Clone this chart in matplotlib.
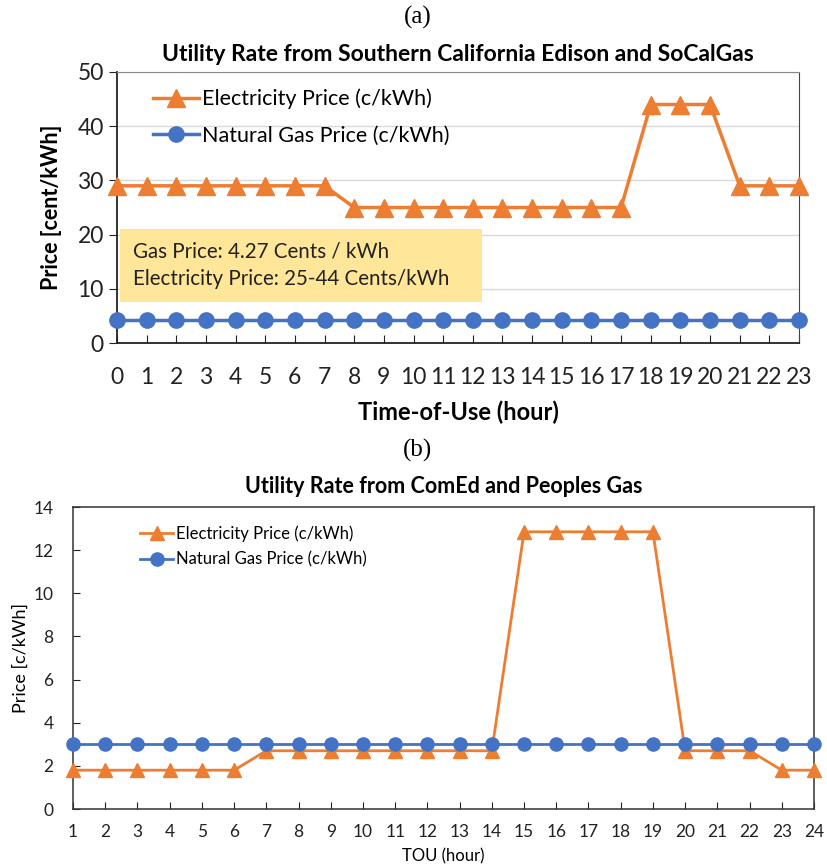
import matplotlib.pyplot as plt
from matplotlib.patches import Rectangle

# (a) Southern California Edison / SoCalGas
hours_a = list(range(0, 24))
elec_a = [29, 29, 29, 29, 29, 29, 29, 29, 25, 25, 25, 25, 25, 25, 25, 25, 25, 25,
          44, 44, 44, 29, 29, 29]
gas_a = [4.27] * 24

# (b) ComEd / Peoples Gas
hours_b = list(range(1, 25))
elec_b = [1.8, 1.8, 1.8, 1.8, 1.8, 1.8, 2.7, 2.7, 2.7, 2.7, 2.7, 2.7, 2.7, 2.7,
          12.85, 12.85, 12.85, 12.85, 12.85, 2.7, 2.7, 2.7, 1.8, 1.8]
gas_b = [3.0] * 24

ORANGE = '#ED7D31'
BLUE = '#4472C4'
FONT = ['Lato', 'DejaVu Sans']
SERIF = ['Liberation Serif', 'DejaVu Serif']

plt.rcParams['font.family'] = FONT

fig = plt.figure(figsize=(8.27, 8.66), dpi=100)
W, H = 827, 866


def px_axes(left, top, right, bottom):
    return fig.add_axes([left / W, 1 - bottom / H, (right - left) / W, (bottom - top) / H])


# ---------- panel (a) ----------
ax1 = px_axes(117, 72, 799, 343)
ax1.plot(hours_a, elec_a, color=ORANGE, lw=2.5, marker='^', ms=13, clip_on=False, zorder=4,
         label='Electricity Price (c/kWh)')
ax1.plot(hours_a, gas_a, color=BLUE, lw=2.5, marker='o', ms=11, clip_on=False, zorder=4,
         label='Natural Gas Price (c/kWh)')
ax1.set_xlim(0, 23)
ax1.set_ylim(0, 50)
ax1.set_xticks(hours_a)
ax1.set_yticks(range(0, 51, 10))
ax1.yaxis.grid(True, color='#d9d9d9', lw=1)
ax1.set_axisbelow(True)
ax1.tick_params(axis='x', direction='in', length=6, labelsize=16.5, pad=17, colors='#222222')
ax1.tick_params(axis='y', direction='out', length=6, labelsize=16.5, colors='#222222')
for s in ['left', 'bottom']:
    ax1.spines[s].set_color('#222222')
    ax1.spines[s].set_linewidth(1.3)
ax1.spines['top'].set_color('#888888')
ax1.spines['right'].set_color('#444444')
ax1.set_xlabel('Time-of-Use (hour)', fontsize=17, fontweight='bold', labelpad=9)
ax1.set_ylabel('Price [cent/kWh]', fontsize=15.5, fontweight='bold', labelpad=11)
ax1.set_title('Utility Rate from Southern California Edison and SoCalGas',
              fontsize=16.5, fontweight='bold', pad=8)
ax1.legend(loc='upper left', bbox_to_anchor=(0.025, 1.01), frameon=False, fontsize=15.5,
           handlelength=2.1, handletextpad=0.15, labelspacing=0.75)
ax1.add_patch(Rectangle((0.1, 7.6), 12.2, 13.4, facecolor='#FFE699', edgecolor='none', zorder=3))
ax1.text(0.55, 14.3, 'Gas Price: 4.27 Cents / kWh\nElectricity Price: 25-44 Cents/kWh',
         fontsize=14.8, va='center', ha='left', linespacing=1.45, zorder=5, color='#222222')
fig.text(418 / W, 1 - 17 / H, '(a)', family=SERIF, fontsize=18, ha='center', va='center')

# ---------- panel (b) ----------
ax2 = px_axes(73, 507, 814, 809)
ax2.plot(hours_b, elec_b, color=ORANGE, lw=2, marker='^', ms=10.5, clip_on=False, zorder=4,
         label='Electricity Price (c/kWh)')
ax2.plot(hours_b, gas_b, color=BLUE, lw=2, marker='o', ms=9.5, clip_on=False, zorder=4,
         label='Natural Gas Price (c/kWh)')
ax2.set_xlim(1, 24)
ax2.set_ylim(0, 14)
ax2.set_xticks(hours_b)
ax2.set_yticks(range(0, 15, 2))
ax2.tick_params(axis='x', direction='in', length=5, labelsize=12.5, pad=11, colors='#222222')
ax2.tick_params(axis='y', direction='in', length=5, labelsize=12.5, pad=14, colors='#222222')
for s in ax2.spines.values():
    s.set_color('#333333')
    s.set_linewidth(1.1)
ax2.set_xlabel('TOU (hour)', fontsize=12, va='top')
ax2.xaxis.set_label_coords(0.5, -(848 - 809) / 302)
ax2.set_ylabel('Price [c/kWh]', fontsize=13, labelpad=3)
ax2.set_title('Utility Rate from ComEd and Peoples Gas', fontsize=15.5, fontweight='bold', pad=10)
ax2.legend(loc='upper left', bbox_to_anchor=(0.07, 0.99), frameon=False, fontsize=12,
           handlelength=2.0, handletextpad=0.15, labelspacing=0.6)
fig.text(418 / W, 1 - 450 / H, '(b)', family=SERIF, fontsize=18, ha='center', va='center')

fig.savefig('out.png', dpi=100)
